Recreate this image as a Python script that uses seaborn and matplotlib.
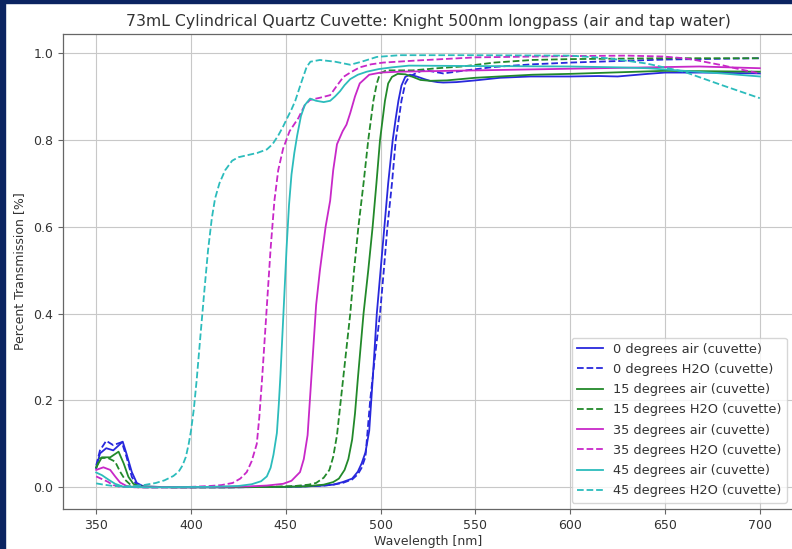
import matplotlib
matplotlib.use("Agg")
import matplotlib.pyplot as plt
from matplotlib.patches import Rectangle
import seaborn as sns
import pandas as pd

# ---- measured transmission curves (wavelength in nm, transmission as fraction) ----
wl_0_air = [350, 352, 355.3, 359, 364, 366, 368.8, 371.4, 375, 390, 420, 450, 460, 470, 475, 480,
            485, 488, 490, 492, 494, 496, 498, 500, 502, 504, 506.4, 508, 509.4, 511, 513, 515.5,
            519, 523, 526, 530, 533, 540, 550, 563, 579, 600, 615, 625, 641, 650, 670, 700]
t_0_air = [0.044, 0.078, 0.090, 0.085, 0.105, 0.077, 0.035, 0.010, 0.002, 0.0, 0.0, 0.001, 0.002,
           0.004, 0.006, 0.012, 0.020, 0.036, 0.055, 0.080, 0.130, 0.260, 0.400, 0.500, 0.600,
           0.700, 0.800, 0.850, 0.890, 0.925, 0.945, 0.950, 0.946, 0.940, 0.936, 0.933, 0.932,
           0.933, 0.937, 0.943, 0.946, 0.946, 0.947, 0.946, 0.952, 0.955, 0.955, 0.953]

wl_0_h2o = [350, 352, 355.3, 359, 363.5, 366, 368.8, 371.4, 375, 390, 420, 450, 460, 470, 475,
            480, 485, 488, 490, 492, 494.5, 497, 499.7, 501.7, 503.6, 506, 508, 511, 513, 515,
            518, 521, 524, 528, 533, 545, 560, 580, 600, 650, 700]
t_0_h2o = [0.050, 0.085, 0.107, 0.097, 0.104, 0.070, 0.024, 0.005, 0.0, 0.0, 0.0, 0.001, 0.002,
           0.004, 0.006, 0.010, 0.018, 0.030, 0.045, 0.070, 0.200, 0.300, 0.400, 0.500, 0.600,
           0.700, 0.800, 0.890, 0.930, 0.945, 0.952, 0.958, 0.960, 0.957, 0.953, 0.960, 0.968,
           0.974, 0.978, 0.985, 0.988]

wl_15_air = [350, 353, 357.4, 361.8, 364.5, 367, 369.6, 373, 390, 420, 450, 460, 470, 475, 478,
             481, 483, 485, 486.5, 488, 491, 493.5, 495.8, 497.8, 499.7, 502.3, 504, 506, 509,
             513, 517, 521, 526, 535, 550, 580, 600, 650, 700]
t_15_air = [0.046, 0.069, 0.069, 0.082, 0.055, 0.024, 0.008, 0.002, 0.0, 0.0, 0.001, 0.002,
            0.006, 0.012, 0.020, 0.040, 0.065, 0.110, 0.170, 0.250, 0.400, 0.500, 0.600, 0.700,
            0.800, 0.890, 0.930, 0.945, 0.952, 0.951, 0.945, 0.938, 0.936, 0.937, 0.943, 0.950,
            0.952, 0.959, 0.957]

wl_15_h2o = [350, 352, 356, 360, 362.6, 365.3, 368.8, 372, 390, 420, 440, 455, 462, 466, 470,
             473, 475, 477, 479, 481, 484, 486, 488.3, 491, 493.5, 496.2, 498, 499.7, 503, 510,
             517, 530, 543, 560, 580, 600, 650, 700]
t_15_h2o = [0.044, 0.067, 0.068, 0.059, 0.036, 0.017, 0.003, 0.0, 0.0, 0.0, 0.001, 0.003,
            0.006, 0.010, 0.022, 0.040, 0.070, 0.120, 0.200, 0.280, 0.400, 0.500, 0.600, 0.700,
            0.800, 0.890, 0.930, 0.953, 0.960, 0.960, 0.960, 0.965, 0.969, 0.978, 0.984, 0.986,
            0.988, 0.988]

wl_35_air = [350, 353.8, 357.4, 360, 362.6, 366, 370, 400, 430, 440, 448.6, 453, 457.5, 459.5,
             461.5, 463, 464.5, 466, 468, 471, 473.4, 475, 477, 480, 482, 484, 486.5, 489, 494,
             500, 510, 563, 615, 668, 700]
t_35_air = [0.040, 0.046, 0.040, 0.025, 0.011, 0.003, 0.0, 0.0, 0.002, 0.004, 0.008, 0.015,
            0.035, 0.065, 0.120, 0.220, 0.320, 0.420, 0.500, 0.600, 0.660, 0.730, 0.790, 0.820,
            0.835, 0.862, 0.900, 0.930, 0.950, 0.955, 0.957, 0.961, 0.965, 0.969, 0.965]

wl_35_h2o = [350, 353, 356, 359, 362.6, 380, 400, 410, 416, 422, 426, 429.4, 432, 434.7, 436,
             437.5, 439, 440.5, 442, 444, 446, 448.6, 452, 456.6, 460, 462.8, 468, 473.4, 477,
             480.4, 484, 489, 495, 501.4, 520, 550, 600, 630, 649, 660, 667, 680, 690, 700]
t_35_h2o = [0.025, 0.019, 0.013, 0.005, 0.001, 0.0, 0.001, 0.003, 0.005, 0.010, 0.020, 0.035,
            0.060, 0.100, 0.160, 0.250, 0.350, 0.450, 0.550, 0.660, 0.730, 0.780, 0.820, 0.850,
            0.880, 0.892, 0.897, 0.903, 0.925, 0.945, 0.955, 0.967, 0.974, 0.978, 0.983, 0.990,
            0.993, 0.994, 0.992, 0.988, 0.983, 0.972, 0.962, 0.953]

wl_45_air = [350, 353, 356.7, 360, 364.5, 380, 410, 425, 432, 437, 440, 442, 443.5, 445.3,
             446.3, 447.2, 448.2, 449.2, 450.4, 451.7, 453, 454.5, 456, 458, 460, 462.8, 466,
             470, 473.4, 476, 478.6, 481, 484, 488, 492.7, 499, 506, 515, 550, 600, 625, 641,
             660, 680, 700]
t_45_air = [0.034, 0.028, 0.017, 0.008, 0.001, 0.0, 0.001, 0.003, 0.007, 0.014, 0.025, 0.045,
            0.075, 0.125, 0.190, 0.260, 0.350, 0.440, 0.550, 0.650, 0.720, 0.770, 0.810, 0.855,
            0.880, 0.895, 0.890, 0.887, 0.890, 0.900, 0.912, 0.926, 0.940, 0.950, 0.957, 0.963,
            0.967, 0.971, 0.970, 0.969, 0.967, 0.965, 0.959, 0.953, 0.946]

wl_45_h2o = [350, 354, 359, 365, 370, 375, 381.5, 386, 390.7, 393.5, 395.5, 397.3, 398.8, 400,
             401.5, 403, 405, 407, 409, 411, 412.7, 415, 418, 421.7, 425, 430, 435, 440, 443,
             446, 448.5, 450.5, 453, 455, 458, 461, 463, 468, 476, 484, 490, 498, 510, 550,
             600, 620, 640, 660, 680, 700]
t_45_h2o = [0.009, 0.006, 0.003, 0.002, 0.003, 0.005, 0.010, 0.016, 0.026, 0.036, 0.050, 0.070,
            0.100, 0.130, 0.180, 0.247, 0.350, 0.450, 0.546, 0.620, 0.665, 0.700, 0.730, 0.752,
            0.760, 0.765, 0.770, 0.778, 0.790, 0.810, 0.830, 0.848, 0.870, 0.890, 0.930, 0.968,
            0.980, 0.984, 0.980, 0.973, 0.980, 0.991, 0.995, 0.995, 0.994, 0.988, 0.976, 0.957,
            0.926, 0.896]

BLUE, GREEN, MAGENTA, CYAN = "#2828dc", "#22892a", "#c828c8", "#2cbcbc"

series = [
    ("0 degrees air (cuvette)", wl_0_air, t_0_air, BLUE, "-"),
    ("0 degrees H2O (cuvette)", wl_0_h2o, t_0_h2o, BLUE, "--"),
    ("15 degrees air (cuvette)", wl_15_air, t_15_air, GREEN, "-"),
    ("15 degrees H2O (cuvette)", wl_15_h2o, t_15_h2o, GREEN, "--"),
    ("35 degrees air (cuvette)", wl_35_air, t_35_air, MAGENTA, "-"),
    ("35 degrees H2O (cuvette)", wl_35_h2o, t_35_h2o, MAGENTA, "--"),
    ("45 degrees air (cuvette)", wl_45_air, t_45_air, CYAN, "-"),
    ("45 degrees H2O (cuvette)", wl_45_h2o, t_45_h2o, CYAN, "--"),
]

W, H = 792, 549
fig = plt.figure(figsize=(W / 100, H / 100), dpi=100)
fig.patch.set_facecolor("white")

# navy frame strips along the left and top edges
fig.patches.append(Rectangle((0, 0), 5 / W, 1, transform=fig.transFigure,
                             color="#0b2461", zorder=10))
fig.patches.append(Rectangle((0, 1 - 3 / H), 1, 3 / H, transform=fig.transFigure,
                             color="#0b2461", zorder=10))

left, right, top, bottom = 63, 793, 34, 509
ax = fig.add_axes([left / W, 1 - bottom / H, (right - left) / W, (bottom - top) / H])

for label, wl, t, color, ls in series:
    df = pd.DataFrame({"Wavelength": wl, "Transmission": t})
    sns.lineplot(data=df, x="Wavelength", y="Transmission", ax=ax, color=color,
                 linestyle=ls, linewidth=1.3, label=label, estimator=None)

ax.set_xlim(332.5, 717.5)
ax.set_ylim(-0.05, 1.0438)
ax.set_xticks([350, 400, 450, 500, 550, 600, 650, 700])
ax.set_yticks([0.0, 0.2, 0.4, 0.6, 0.8, 1.0])
ax.grid(True, color="#c8c8c8", linewidth=0.8)
ax.set_axisbelow(True)
for s in ax.spines.values():
    s.set_color("#666666")
    s.set_linewidth(0.9)
ax.spines["right"].set_visible(False)
ax.tick_params(labelsize=9, length=3.5, width=0.8, colors="#666666", labelcolor="#333333")

ax.set_xlabel("Wavelength [nm]", fontsize=9, color="#333333", labelpad=2)
ax.set_ylabel("Percent Transmission [%]", fontsize=9, color="#333333", labelpad=5)
ax.set_title("73mL Cylindrical Quartz Cuvette: Knight 500nm longpass (air and tap water)",
             fontsize=11.3, color="#333333", pad=6)

leg = ax.legend(loc="lower right", fontsize=9.3, frameon=True, framealpha=0.8,
                borderpad=0.4, handlelength=2.0, labelspacing=0.56,
                bbox_to_anchor=(1 - 12 / (right - left), 0.0, 12 / (right - left), 1))
for txt in leg.get_texts():
    txt.set_color("#333333")

fig.savefig("out.png", dpi=100)
